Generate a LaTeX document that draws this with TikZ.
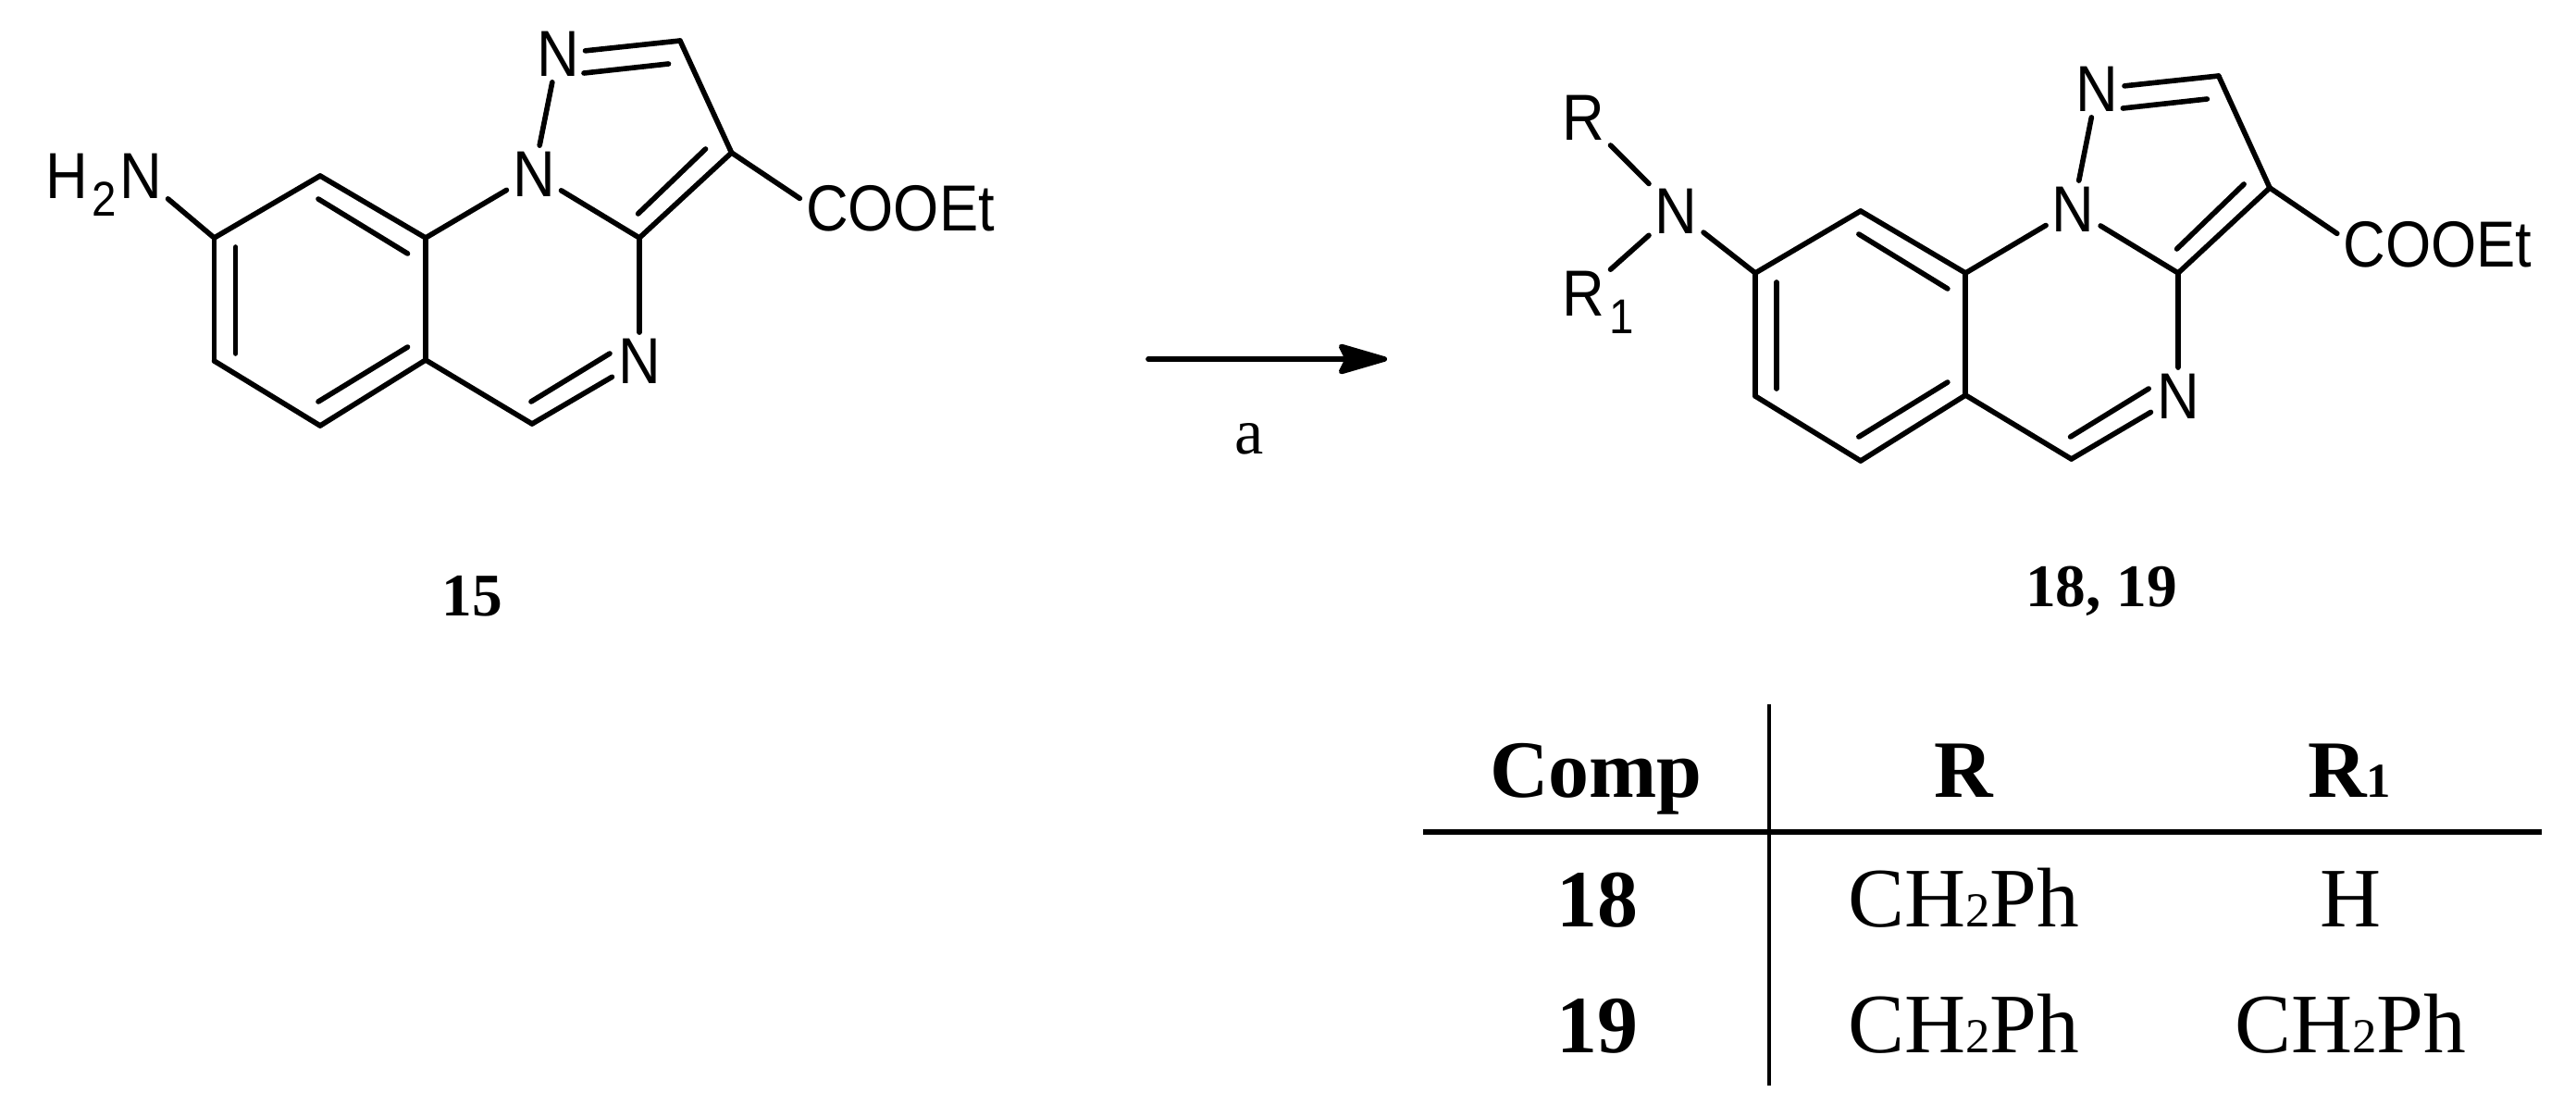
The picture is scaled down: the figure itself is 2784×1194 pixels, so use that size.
\documentclass[tikz,border=0pt]{standalone}
\usepackage{fontspec}
\usetikzlibrary{arrows.meta}
\setmainfont{Liberation Serif}
\newfontfamily\arialf[FakeStretch=0.9]{Liberation Sans}
\newcommand{\lowsub}[1]{\smash{\raisebox{-5.4pt}{\fontsize{15}{16}\selectfont #1}}}
\newcommand{\tabsub}[1]{{\fontsize{15}{16}\selectfont #1}}
\tikzset{
  x=0.01cm, y=-0.01cm,
  bond/.style={line width=1.6pt, line cap=round},
  rule/.style={line width=1.3pt},
  atom/.style={font=\arialf\fontsize{20}{22}\selectfont, inner sep=1.9pt, outer sep=0pt},
  grp/.style={atom, anchor=base},
  cell/.style={font=\fontsize{26}{28}\selectfont, anchor=base, inner sep=0pt},
  headcell/.style={cell, font=\bfseries\fontsize{25}{28}\selectfont},
  compno/.style={anchor=base, inner sep=0pt, font=\bfseries\fontsize{18.6}{20}\selectfont},
}
% ring system shared by both molecules (positions in reference pixels)
\newcommand{\corering}{%
  \coordinate (c8) at (231.5,257);
  \coordinate (c7) at (346,190);
  \coordinate (c8a) at (460,257);
  \coordinate (c4a) at (460,389);
  \coordinate (c5) at (346,460);
  \coordinate (c6) at (231.5,390);
  \coordinate (c3a) at (691,257);
  \coordinate (c3) at (790.6,165);
  \coordinate (c2) at (735,44);
  \coordinate (ch) at (575,458);
  \node[atom] (n1) at (577,188) {N};
  \node[atom] (n2) at (603,58) {N};
  \node[atom] (n4) at (691,390) {N};
  \node[grp] (coo) at (973,250) {COOEt};
  % inner lines of the double bonds
  \coordinate (i1a) at (254.6,267); \coordinate (i1b) at (254.6,382);
  \coordinate (i2a) at (344,215);   \coordinate (i2b) at (440.5,274);
  \coordinate (i3a) at (440.5,375); \coordinate (i3b) at (344,434);
  \coordinate (i4a) at (574,434);   \coordinate (i4b) at (659,382);
  \coordinate (i5a) at (631,79);    \coordinate (i5b) at (722.5,69);
  \coordinate (i6a) at (762.5,161); \coordinate (i6b) at (689.6,231);
  \draw[bond] (c8) -- (c7);
  \draw[bond] (c7) -- (c8a);
  \draw[bond] (c8a) -- (c4a);
  \draw[bond] (c4a) -- (c5);
  \draw[bond] (c5) -- (c6);
  \draw[bond] (c6) -- (c8);
  \draw[bond] (c8a) -- (n1);
  \draw[bond] (n1) -- (c3a);
  \draw[bond] (n1) -- (n2);
  \draw[bond] (n2) -- (c2);
  \draw[bond] (c2) -- (c3);
  \draw[bond] (c3) -- (c3a);
  \draw[bond] (c3) -- (coo.174);
  \draw[bond] (c3a) -- (n4);
  \draw[bond] (n4) -- (ch);
  \draw[bond] (ch) -- (c4a);
  \draw[bond] (i1a) -- (i1b);
  \draw[bond] (i2a) -- (i2b);
  \draw[bond] (i3a) -- (i3b);
  \draw[bond] (i4a) -- (i4b);
  \draw[bond] (i5a) -- (i5b);
  \draw[bond] (i6a) -- (i6b);
}
\begin{document}
\begin{tikzpicture}
\useasboundingbox (0,0) rectangle (2784,1194);

% substrate 15
\begin{scope}[name prefix=s-]
  \corering
  \node[atom] (amine) at (152,190) {\llap{H\kern1pt\lowsub{2}\kern1pt}N};
  \draw[bond] (amine) -- (c8);
\end{scope}
\node[compno] (lab15) at (510,665) {15};

% reaction arrow
\coordinate (arrowstart) at (1241,388);
\coordinate (arrowend) at (1499,388);
\draw[bond, -{Stealth[length=17.5pt,width=10pt,inset=2.4pt,round]}] (arrowstart) -- (arrowend);
\node[anchor=base, inner sep=0pt, font=\fontsize{20}{22}\selectfont] (reagent) at (1350,490) {a};

% products 18, 19
\begin{scope}[name prefix=p-, shift={(1666.75,38)}, xscale=0.9946]
  \corering
\end{scope}
\node[atom] (p-nr) at (1811.5,228) {N};
\node[atom] (p-r) at (1711,127.5) {R};
\node[atom] (p-r1) at (1711,317.5) {R\rlap{\kern1.5pt\lowsub{1}}};
\draw[bond] (p-nr) -- (p-c8);
\draw[bond] (p-r) -- (p-nr);
\draw[bond] (p-r1) -- (p-nr);
\node[compno] (lab1819) at (2271,655) {18, 19};

% table
\coordinate (vtop) at (1912,761);
\coordinate (vbot) at (1912,1173);
\coordinate (hleft) at (1538,899);
\coordinate (hright) at (2747,899);
\draw[rule] (vtop) -- (vbot);
\draw[bond, line cap=butt] (hleft) -- (hright);
\node[headcell] (t-comp) at (1725,861) {Comp};
\node[headcell] (t-r) at (2122,861) {R};
\node[headcell] (t-r1) at (2539,861) {R\tabsub{1}};
\node[headcell] (t-18) at (1726,1001) {18};
\node[cell] (t-18r) at (2122,1001) {CH\tabsub{2}Ph};
\node[cell] (t-18r1) at (2540,1001) {H};
\node[headcell] (t-19) at (1726,1137) {19};
\node[cell] (t-19r) at (2122,1137) {CH\tabsub{2}Ph};
\node[cell] (t-19r1) at (2540,1137) {CH\tabsub{2}Ph};
\end{tikzpicture}
\end{document}
